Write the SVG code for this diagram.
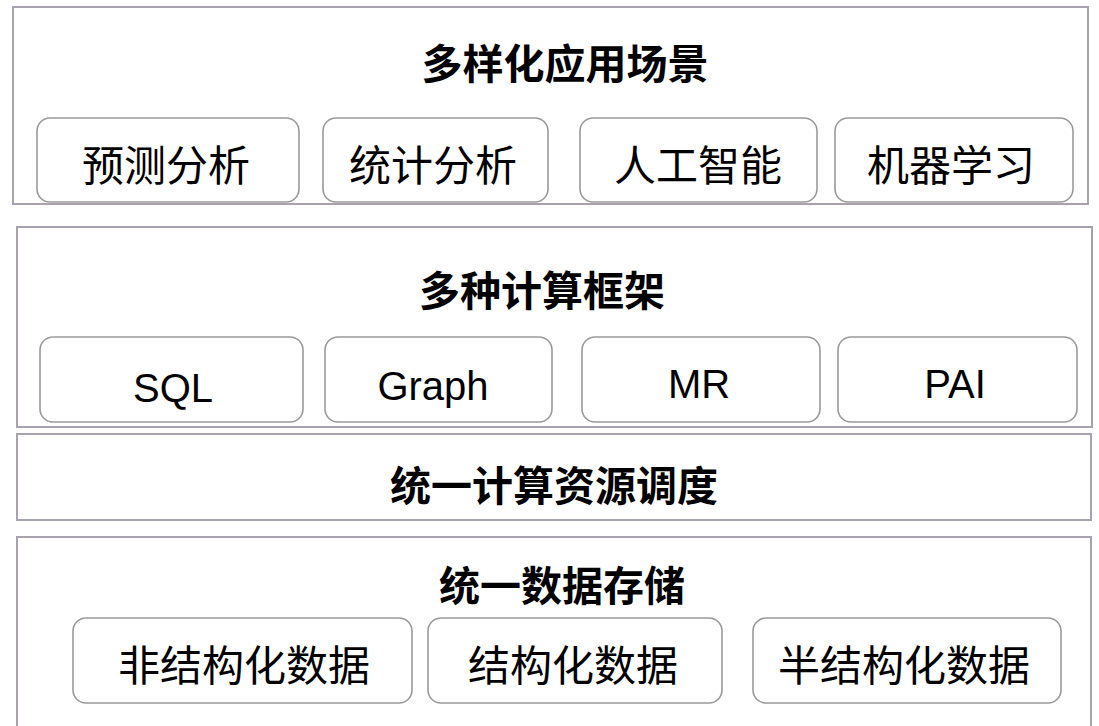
<svg xmlns="http://www.w3.org/2000/svg" width="1099" height="726" viewBox="0 0 1099 726">
<style>
.panel{fill:#ffffff;stroke:#a8a2ae;stroke-width:2}
.box{fill:#ffffff;stroke:#9a9a9a;stroke-width:1.6}
.title{font-family:"Noto Sans CJK SC","Liberation Sans",sans-serif;font-weight:bold;font-size:41px;fill:#000;text-anchor:middle}
.lbl{font-family:"Noto Sans CJK SC","Liberation Sans",sans-serif;font-size:42px;fill:#000;text-anchor:middle}
.lat{font-family:"Liberation Sans",Arial,sans-serif;font-size:40px;fill:#000;text-anchor:middle}
</style>
<rect x="0" y="0" width="1099" height="726" fill="#ffffff"/>
<g id="layer-apps">
<rect class="panel" x="13" y="7" width="1075" height="197"/>
<text class="title" x="565" y="79">多样化应用场景</text>
</g>
<g id="node-yuce"><rect class="box" x="37" y="118" width="262" height="84" rx="13"/><text class="lbl" x="166" y="181">预测分析</text></g>
<g id="node-tongji"><rect class="box" x="323" y="118" width="225" height="84" rx="13"/><text class="lbl" x="433" y="181">统计分析</text></g>
<g id="node-ai"><rect class="box" x="580" y="118" width="237" height="84" rx="13"/><text class="lbl" x="698" y="181">人工智能</text></g>
<g id="node-ml"><rect class="box" x="835" y="118" width="238" height="84" rx="13"/><text class="lbl" x="951" y="181">机器学习</text></g>
<g id="layer-compute">
<rect class="panel" x="17" y="227" width="1075" height="200"/>
<text class="title" x="542" y="306">多种计算框架</text>
</g>
<g id="node-sql"><rect class="box" x="40" y="337" width="263" height="85" rx="13"/><text class="lat" x="173" y="402">SQL</text></g>
<g id="node-graph"><rect class="box" x="325" y="337" width="227" height="85" rx="13"/><text class="lat" x="433" y="400">Graph</text></g>
<g id="node-mr"><rect class="box" x="582" y="337" width="238" height="85" rx="13"/><text class="lat" x="699" y="398">MR</text></g>
<g id="node-pai"><rect class="box" x="838" y="337" width="239" height="85" rx="13"/><text class="lat" x="955" y="398">PAI</text></g>
<g id="layer-scheduling">
<rect class="panel" x="17" y="434" width="1074" height="86"/>
<text class="title" x="554" y="501">统一计算资源调度</text>
</g>
<g id="layer-storage">
<rect class="panel" x="17" y="537" width="1074" height="205"/>
<text class="title" x="562" y="601">统一数据存储</text>
</g>
<g id="node-unstructured"><rect class="box" x="73" y="618" width="339" height="85" rx="13"/><text class="lbl" x="244" y="681">非结构化数据</text></g>
<g id="node-structured"><rect class="box" x="428" y="618" width="294" height="85" rx="13"/><text class="lbl" x="573" y="681">结构化数据</text></g>
<g id="node-semi"><rect class="box" x="753" y="618" width="308" height="85" rx="13"/><text class="lbl" x="904" y="681">半结构化数据</text></g>
<g id="connectors"></g>
</svg>
